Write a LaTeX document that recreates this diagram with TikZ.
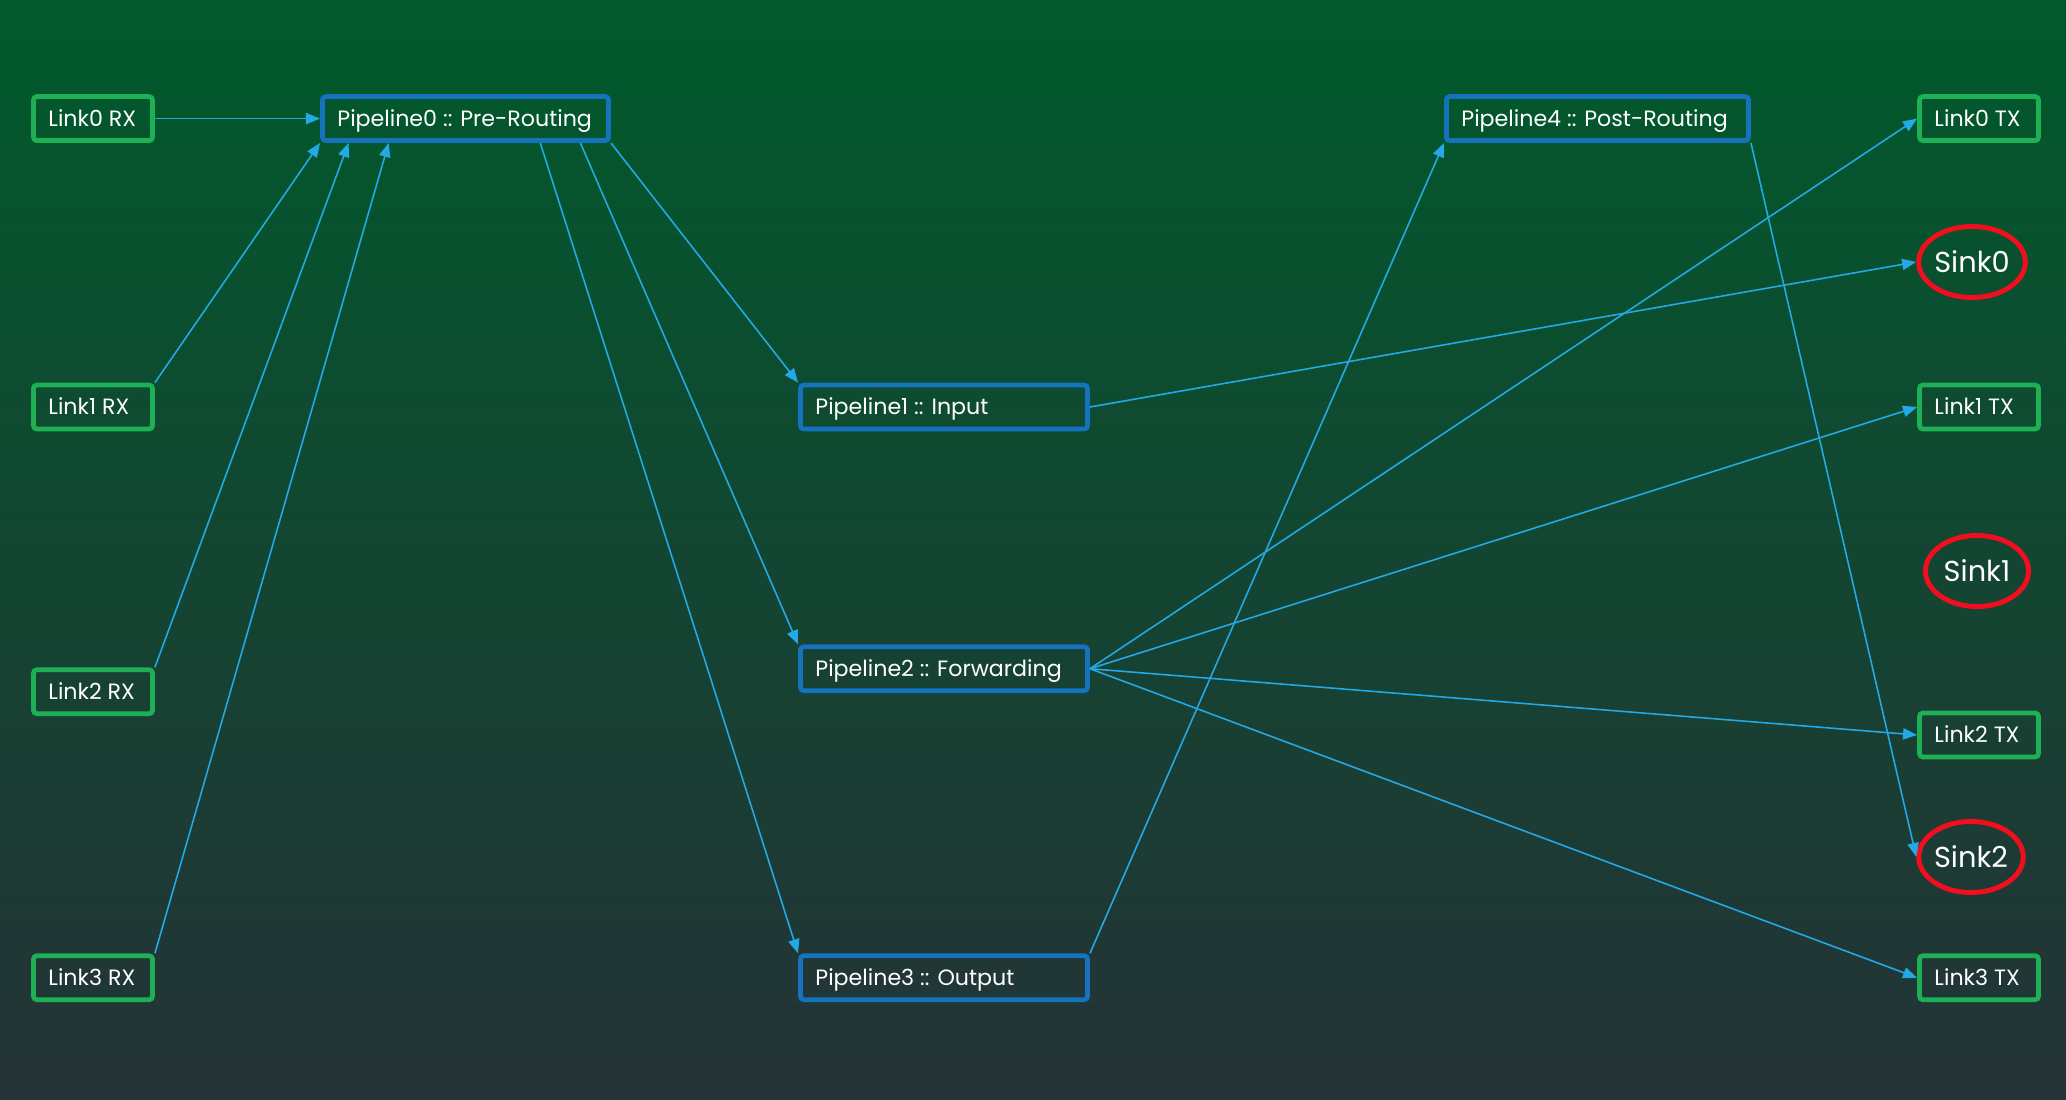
\documentclass[tikz,border=0pt]{standalone}
\usepackage{fontspec}
\setmainfont{Poppins}
\usetikzlibrary{shapes.geometric,arrows.meta,calc}
\definecolor{bgtop}{HTML}{005A2C}
\definecolor{bgmid}{HTML}{1B5035}
\definecolor{bgbot}{HTML}{253237}
\definecolor{boxgreen}{HTML}{1DB054}
\definecolor{boxblue}{HTML}{1573BE}
\definecolor{edgeblue}{HTML}{22A9E6}
\definecolor{sinkred}{HTML}{F20D1F}
\newcommand\lefttext[2]{\makebox[#1][l]{#2}}
\begin{document}
\begin{tikzpicture}[x=0.01cm,y=-0.01cm,
  boxbase/.style={draw, line width=1.35pt, rounded corners=1pt, inner sep=0pt,
    minimum height=0.44cm, text=white, text height=4.5pt, text depth=0pt,
    font=\fontsize{6.3pt}{8pt}\selectfont},
  lbox/.style={boxbase, draw=boxgreen, minimum width=1.19cm},
  pbox/.style={boxbase, draw=boxblue},
  sink/.style={ellipse, draw=sinkred, line width=1.4pt, inner sep=0pt,
    minimum width=1.03cm, minimum height=0.71cm, text=white,
    font=\fontsize{8.2pt}{10pt}\selectfont},
  edge/.style={draw=edgeblue, line width=0.45pt,
    -{Triangle[length=4pt,width=3.2pt]}}]
\shade[top color=bgtop, middle color=bgmid, bottom color=bgbot] (0,0) rectangle (2066,1100);
\useasboundingbox (0,0) rectangle (2066,1100);

% left column
\node[lbox] (lrx0) at (93,118.6) {\lefttext{0.89cm}{Link0 RX}};
\node[lbox] (lrx1) at (93,407)   {\lefttext{0.89cm}{Link1 RX}};
\node[lbox] (lrx2) at (93,691.7) {\lefttext{0.89cm}{Link2 RX}};
\node[lbox] (lrx3) at (93,977.7) {\lefttext{0.89cm}{Link3 RX}};

% pipelines
\node[pbox, minimum width=2.86cm] (p0) at (465.5,118.6) {\lefttext{2.56cm}{Pipeline0 :: Pre-Routing}};
\node[pbox, minimum width=2.87cm] (p1) at (944,407)   {\lefttext{2.57cm}{Pipeline1 :: Input}};
\node[pbox, minimum width=2.87cm] (p2) at (944,668.7) {\lefttext{2.57cm}{Pipeline2 :: Forwarding}};
\node[pbox, minimum width=2.87cm] (p3) at (944,977.7) {\lefttext{2.57cm}{Pipeline3 :: Output}};
\node[pbox, minimum width=3.02cm] (p4) at (1597.5,118.6) {\lefttext{2.72cm}{Pipeline4 :: Post-Routing}};

% right column
\node[lbox] (ltx0) at (1979,118.6) {\lefttext{0.89cm}{Link0 TX}};
\node[sink] (s0) at (1972,262) {Sink0};
\node[lbox] (ltx1) at (1979,407) {\lefttext{0.89cm}{Link1 TX}};
\node[sink] (s1) at (1977,571) {Sink1};
\node[lbox] (ltx2) at (1979,735) {\lefttext{0.89cm}{Link2 TX}};
\node[sink] (s2) at (1971,857) {Sink2};
\node[lbox] (ltx3) at (1979,977.7) {\lefttext{0.89cm}{Link3 TX}};

% edges into Pipeline0
\draw[edge] (lrx0.east) -- (p0.west);
\draw[edge] (lrx1.north east) -- (p0.south west);
\draw[edge] (lrx2.north east) -- ($(p0.south west)!0.098!(p0.south east)$);
\draw[edge] (lrx3.north east) -- ($(p0.south west)!0.236!(p0.south east)$);

% Pipeline0 outputs
\draw[edge] (p0.south east) -- (p1.north west);
\draw[edge] ($(p0.south west)!0.895!(p0.south east)$) -- (p2.north west);
\draw[edge] ($(p0.south west)!0.757!(p0.south east)$) -- (p3.north west);

% Pipeline1
\draw[edge] (p1.east) -- (s0.west);

% Pipeline2 fan-out
\draw[edge] (p2.east) -- (ltx0.west);
\draw[edge] (p2.east) -- (ltx1.west);
\draw[edge] (p2.east) -- (ltx2.west);
\draw[edge] (p2.east) -- (ltx3.west);

% Pipeline3 -> Pipeline4
\draw[edge] (p3.north east) -- (p4.south west);

% Pipeline4 -> Sink2
\draw[edge] (p4.south east) -- (s2.west);
\end{tikzpicture}
\end{document}
